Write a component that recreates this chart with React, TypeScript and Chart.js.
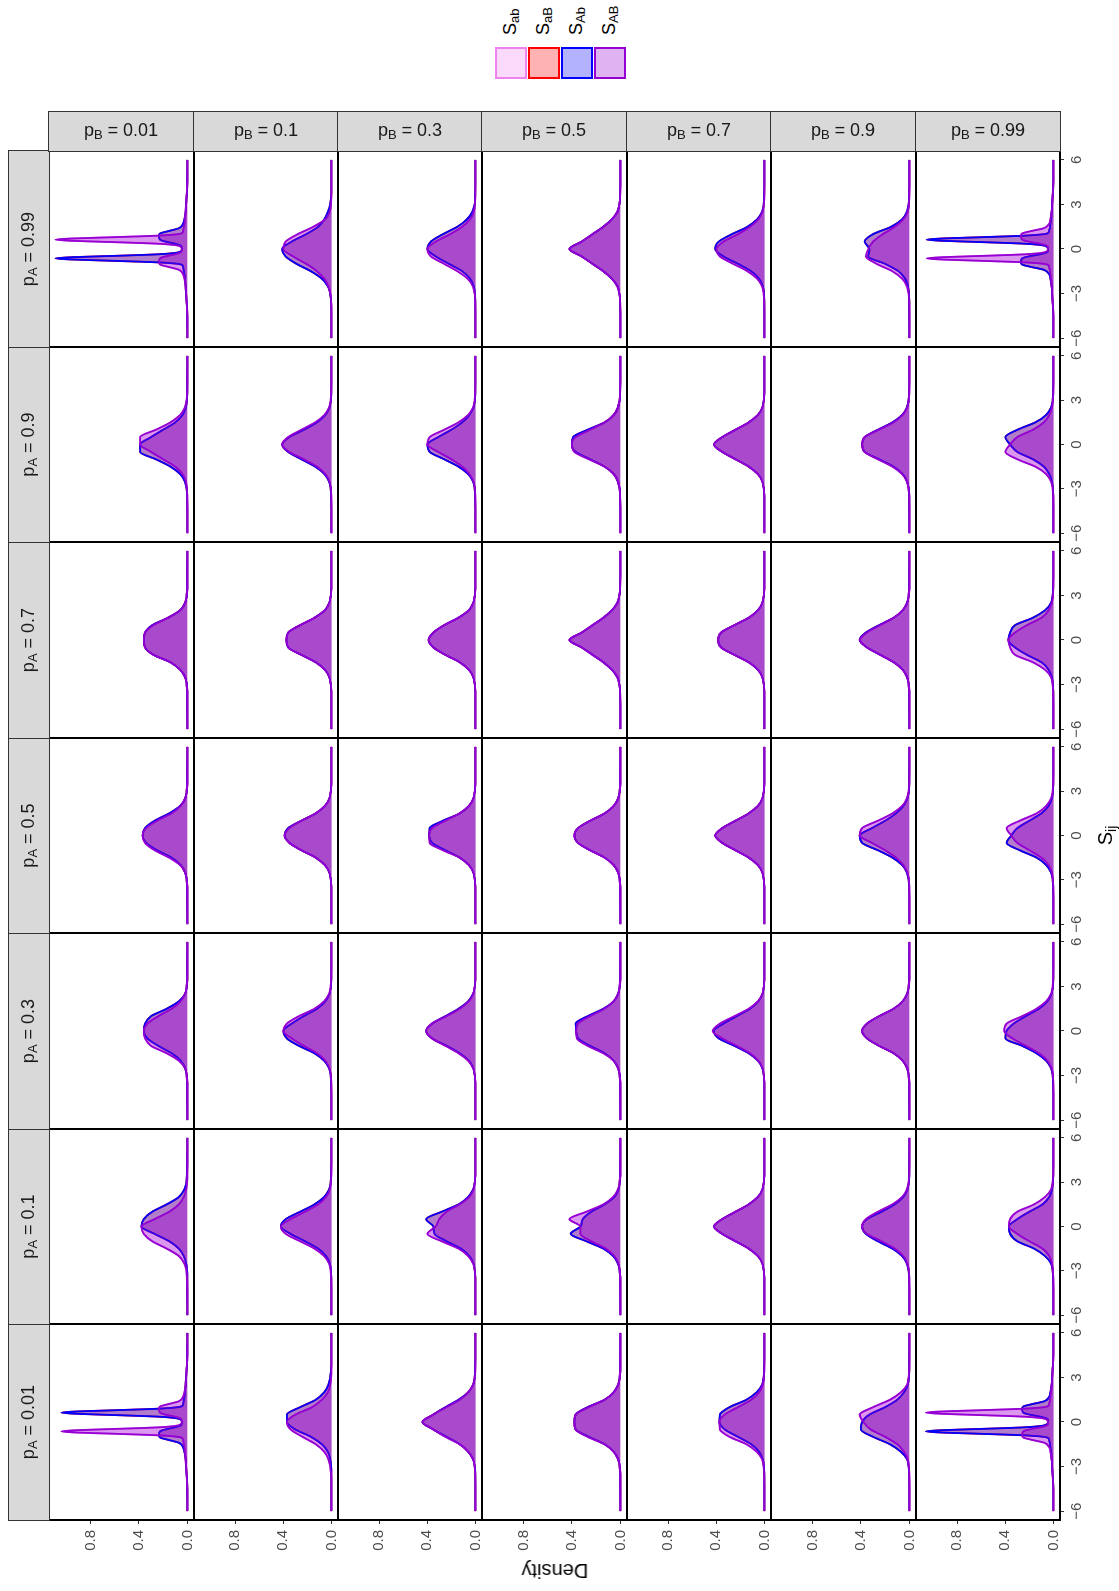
import React, { useEffect, useRef } from "react";
import { Chart, registerables } from "chart.js";

Chart.register(...registerables);

// ---------------- data ----------------
const pA_levels = ["0.01", "0.1", "0.3", "0.5", "0.7", "0.9", "0.99"];
const pB_levels = ["0.01", "0.1", "0.3", "0.5", "0.7", "0.9", "0.99"];
const S_ticks = [-6, -3, 0, 3, 6];
const density_ticks = [0, 0.4, 0.8];

// x positions (S_ij) at which densities were read
const S_grid = [-6, -3.5, -3, -2.5, -2, -1.5, -1, -0.5, 0, 0.5, 1, 1.5, 2, 2.5, 3, 3.5, 6];
const S_grid_fine = [-6, -4, -3, -2.5, -2, -1.7, -1.4, -1.2, -1.05, -0.9, -0.8, -0.7, -0.63, -0.55, -0.45, -0.35, -0.2, 0, 0.2, 0.35, 0.45, 0.55, 0.63, 0.7, 0.8, 0.9, 1.05, 1.2, 1.4, 1.7, 2, 2.5, 3, 4, 6];

// density of S_AB, indexed [pA][pB]
const S_AB: number[][][] = [
  [ // pA = 0.01
    [0,0.003,0.01,0.015,0.02,0.025,0.03,0.035,0.05,0.235,0.575,0.94,1.04,0.91,0.54,0.22,0.065,0.045,0.05,0.1,0.155,0.205,0.225,0.23,0.235,0.235,0.225,0.16,0.07,0.035,0.025,0.015,0.01,0.003,0],
    [0,0.003,0.01,0.025,0.06,0.13,0.24,0.34,0.37,0.30,0.16,0.08,0.03,0.01,0.003,0.001,0],
    [0,0.002,0.006,0.02,0.06,0.13,0.25,0.35,0.44,0.35,0.24,0.13,0.06,0.02,0.005,0.001,0],
    [0,0.001,0.005,0.018,0.055,0.13,0.27,0.37,0.38,0.37,0.26,0.13,0.055,0.018,0.005,0.001,0],
    [0,0.002,0.006,0.02,0.065,0.15,0.29,0.37,0.375,0.33,0.22,0.11,0.045,0.015,0.004,0.001,0],
    [0,0.001,0.004,0.014,0.045,0.10,0.20,0.32,0.38,0.41,0.30,0.16,0.07,0.02,0.006,0.002,0],
    [0,0.003,0.01,0.015,0.025,0.035,0.075,0.18,0.25,0.26,0.26,0.255,0.25,0.225,0.17,0.105,0.05,0.045,0.065,0.225,0.55,0.925,1.06,0.955,0.585,0.24,0.05,0.035,0.03,0.025,0.02,0.015,0.01,0.003,0],
  ],
  [ // pA = 0.1
    [0,0.003,0.008,0.025,0.07,0.17,0.29,0.36,0.38,0.27,0.15,0.07,0.03,0.01,0.003,0.001,0],
    [0,0.002,0.006,0.02,0.06,0.14,0.26,0.38,0.42,0.34,0.22,0.11,0.045,0.014,0.004,0.001,0],
    [0,0.001,0.005,0.02,0.06,0.14,0.28,0.40,0.33,0.30,0.24,0.13,0.05,0.016,0.005,0.001,0],
    [0,0.001,0.005,0.016,0.05,0.12,0.24,0.33,0.33,0.42,0.28,0.14,0.06,0.02,0.005,0.001,0],
    [0,0.001,0.005,0.018,0.055,0.13,0.24,0.35,0.42,0.35,0.24,0.13,0.055,0.018,0.005,0.001,0],
    [0,0.001,0.004,0.016,0.05,0.12,0.23,0.35,0.39,0.36,0.26,0.14,0.06,0.02,0.006,0.002,0],
    [0,0.001,0.004,0.012,0.035,0.09,0.20,0.30,0.37,0.36,0.30,0.16,0.07,0.02,0.006,0.002,0],
  ],
  [ // pA = 0.3
    [0,0.001,0.005,0.02,0.07,0.17,0.30,0.35,0.36,0.33,0.24,0.13,0.055,0.018,0.005,0.001,0],
    [0,0.001,0.004,0.016,0.05,0.12,0.23,0.33,0.40,0.37,0.27,0.14,0.06,0.02,0.006,0.002,0],
    [0,0.001,0.005,0.02,0.06,0.14,0.25,0.36,0.41,0.36,0.24,0.13,0.055,0.018,0.005,0.001,0],
    [0,0.001,0.005,0.018,0.055,0.14,0.27,0.36,0.365,0.35,0.25,0.13,0.055,0.018,0.005,0.001,0],
    [0,0.001,0.005,0.016,0.05,0.12,0.23,0.35,0.43,0.37,0.25,0.13,0.055,0.018,0.005,0.001,0],
    [0,0.001,0.005,0.018,0.055,0.13,0.25,0.35,0.39,0.35,0.25,0.13,0.055,0.018,0.005,0.001,0],
    [0,0.001,0.004,0.015,0.05,0.12,0.23,0.34,0.41,0.39,0.26,0.14,0.06,0.02,0.006,0.002,0],
  ],
  [ // pA = 0.5
    [0,0.001,0.005,0.018,0.06,0.15,0.27,0.35,0.37,0.34,0.25,0.13,0.055,0.018,0.005,0.001,0],
    [0,0.001,0.005,0.018,0.055,0.13,0.25,0.35,0.39,0.35,0.25,0.13,0.055,0.018,0.005,0.001,0],
    [0,0.001,0.005,0.018,0.055,0.13,0.27,0.38,0.385,0.36,0.25,0.13,0.055,0.018,0.005,0.001,0],
    [0,0.001,0.005,0.018,0.055,0.13,0.25,0.35,0.38,0.35,0.25,0.13,0.055,0.018,0.005,0.001,0],
    [0,0.001,0.005,0.018,0.055,0.13,0.24,0.35,0.41,0.35,0.24,0.13,0.055,0.018,0.005,0.001,0],
    [0,0.001,0.004,0.016,0.05,0.11,0.20,0.31,0.41,0.39,0.26,0.14,0.06,0.02,0.006,0.002,0],
    [0,0.001,0.004,0.013,0.04,0.10,0.20,0.30,0.35,0.39,0.28,0.14,0.06,0.02,0.006,0.002,0],
  ],
  [ // pA = 0.7
    [0,0.001,0.005,0.018,0.06,0.14,0.28,0.35,0.36,0.35,0.28,0.16,0.06,0.018,0.005,0.001,0],
    [0,0.001,0.005,0.018,0.055,0.13,0.25,0.36,0.375,0.36,0.26,0.14,0.055,0.018,0.005,0.001,0],
    [0,0.001,0.005,0.018,0.055,0.13,0.25,0.35,0.39,0.35,0.26,0.14,0.055,0.018,0.005,0.001,0],
    [0,0.002,0.008,0.025,0.07,0.14,0.23,0.32,0.42,0.32,0.23,0.14,0.07,0.025,0.008,0.002,0],
    [0,0.001,0.005,0.018,0.055,0.13,0.25,0.36,0.385,0.36,0.25,0.13,0.055,0.018,0.005,0.001,0],
    [0,0.001,0.005,0.018,0.055,0.13,0.24,0.35,0.41,0.35,0.24,0.13,0.055,0.018,0.005,0.001,0],
    [0,0.002,0.006,0.02,0.07,0.17,0.32,0.36,0.375,0.32,0.22,0.10,0.04,0.013,0.004,0.001,0],
  ],
  [ // pA = 0.9
    [0,0.001,0.004,0.013,0.04,0.10,0.20,0.30,0.39,0.39,0.26,0.14,0.06,0.02,0.006,0.002,0],
    [0,0.001,0.004,0.016,0.05,0.12,0.23,0.35,0.41,0.36,0.25,0.135,0.058,0.02,0.006,0.002,0],
    [0,0.001,0.004,0.016,0.05,0.11,0.20,0.31,0.40,0.38,0.26,0.14,0.06,0.02,0.006,0.002,0],
    [0,0.002,0.006,0.02,0.055,0.13,0.26,0.38,0.40,0.37,0.25,0.13,0.055,0.02,0.006,0.002,0],
    [0,0.001,0.005,0.018,0.055,0.13,0.24,0.35,0.42,0.35,0.24,0.13,0.055,0.018,0.005,0.001,0],
    [0,0.002,0.006,0.02,0.06,0.14,0.26,0.37,0.39,0.37,0.25,0.13,0.055,0.018,0.005,0.001,0],
    [0,0.002,0.006,0.02,0.06,0.15,0.30,0.40,0.36,0.30,0.17,0.08,0.035,0.012,0.004,0.001,0],
  ],
  [ // pA = 0.99
    [0,0.003,0.01,0.015,0.025,0.035,0.07,0.16,0.225,0.235,0.235,0.23,0.225,0.205,0.155,0.1,0.05,0.045,0.065,0.23,0.56,0.95,1.09,0.98,0.6,0.245,0.05,0.035,0.03,0.025,0.02,0.015,0.01,0.003,0],
    [0,0.002,0.008,0.025,0.06,0.12,0.21,0.32,0.40,0.38,0.28,0.15,0.05,0.015,0.004,0.001,0],
    [0,0.002,0.007,0.022,0.065,0.15,0.26,0.37,0.40,0.33,0.21,0.11,0.045,0.014,0.004,0.001,0],
    [0,0.002,0.008,0.025,0.07,0.14,0.23,0.32,0.42,0.32,0.23,0.14,0.07,0.025,0.008,0.002,0],
    [0,0.002,0.006,0.02,0.06,0.14,0.26,0.37,0.40,0.34,0.22,0.12,0.05,0.016,0.004,0.001,0],
    [0,0.002,0.006,0.02,0.06,0.14,0.27,0.36,0.34,0.30,0.22,0.12,0.05,0.015,0.004,0.001,0],
    [0,0.003,0.01,0.015,0.02,0.025,0.03,0.035,0.05,0.24,0.585,0.95,1.055,0.92,0.545,0.225,0.065,0.045,0.05,0.11,0.175,0.235,0.26,0.265,0.27,0.27,0.26,0.19,0.08,0.035,0.025,0.015,0.01,0.003,0],
  ],
];

// density of S_Ab, indexed [pA][pB]
const S_Ab: number[][][] = [
  [ // pA = 0.01
    [0,0.003,0.01,0.015,0.025,0.035,0.07,0.16,0.225,0.235,0.235,0.23,0.225,0.205,0.155,0.1,0.05,0.045,0.065,0.22,0.54,0.91,1.04,0.94,0.575,0.235,0.05,0.035,0.03,0.025,0.02,0.015,0.01,0.003,0],
    [0,0.001,0.003,0.01,0.03,0.08,0.17,0.30,0.37,0.37,0.26,0.13,0.06,0.025,0.01,0.003,0],
    [0,0.001,0.005,0.02,0.06,0.13,0.24,0.35,0.44,0.35,0.25,0.14,0.06,0.02,0.006,0.002,0],
    [0,0.001,0.005,0.018,0.055,0.13,0.26,0.37,0.38,0.37,0.27,0.13,0.055,0.018,0.005,0.001,0],
    [0,0.001,0.004,0.015,0.045,0.11,0.22,0.33,0.375,0.37,0.29,0.15,0.065,0.02,0.006,0.002,0],
    [0,0.002,0.006,0.02,0.07,0.16,0.30,0.40,0.39,0.33,0.20,0.10,0.045,0.014,0.004,0.001,0],
    [0,0.003,0.01,0.015,0.02,0.025,0.03,0.035,0.05,0.24,0.585,0.955,1.06,0.925,0.55,0.225,0.065,0.045,0.05,0.105,0.17,0.225,0.25,0.255,0.26,0.26,0.25,0.18,0.075,0.035,0.025,0.015,0.01,0.003,0],
  ],
  [ // pA = 0.1
    [0,0.001,0.003,0.01,0.03,0.07,0.15,0.27,0.38,0.36,0.29,0.17,0.07,0.025,0.008,0.003,0],
    [0,0.001,0.004,0.014,0.045,0.11,0.22,0.34,0.42,0.38,0.26,0.14,0.06,0.02,0.006,0.002,0],
    [0,0.001,0.005,0.016,0.05,0.12,0.24,0.34,0.35,0.41,0.28,0.14,0.06,0.02,0.005,0.001,0],
    [0,0.001,0.005,0.02,0.06,0.14,0.28,0.41,0.33,0.31,0.24,0.13,0.05,0.016,0.005,0.001,0],
    [0,0.001,0.005,0.018,0.055,0.13,0.24,0.35,0.42,0.35,0.24,0.13,0.055,0.018,0.005,0.001,0],
    [0,0.002,0.006,0.02,0.06,0.14,0.26,0.36,0.39,0.35,0.23,0.12,0.05,0.016,0.004,0.001,0],
    [0,0.002,0.006,0.02,0.07,0.16,0.30,0.36,0.37,0.30,0.20,0.09,0.035,0.012,0.004,0.001,0],
  ],
  [ // pA = 0.3
    [0,0.001,0.005,0.018,0.055,0.13,0.24,0.33,0.36,0.35,0.30,0.17,0.07,0.02,0.005,0.001,0],
    [0,0.002,0.006,0.02,0.06,0.14,0.27,0.37,0.40,0.33,0.23,0.12,0.05,0.016,0.004,0.001,0],
    [0,0.001,0.005,0.018,0.055,0.13,0.24,0.36,0.41,0.36,0.25,0.14,0.06,0.02,0.005,0.001,0],
    [0,0.001,0.005,0.018,0.055,0.13,0.25,0.35,0.365,0.37,0.27,0.14,0.055,0.018,0.005,0.001,0],
    [0,0.001,0.005,0.018,0.055,0.13,0.25,0.38,0.42,0.34,0.23,0.12,0.05,0.016,0.005,0.001,0],
    [0,0.001,0.005,0.018,0.055,0.13,0.25,0.35,0.39,0.35,0.25,0.13,0.055,0.018,0.005,0.001,0],
    [0,0.002,0.006,0.02,0.06,0.14,0.26,0.40,0.39,0.33,0.23,0.12,0.05,0.016,0.004,0.001,0],
  ],
  [ // pA = 0.5
    [0,0.001,0.005,0.018,0.055,0.13,0.25,0.34,0.37,0.35,0.27,0.15,0.06,0.018,0.005,0.001,0],
    [0,0.001,0.005,0.018,0.055,0.13,0.25,0.35,0.39,0.36,0.25,0.13,0.055,0.018,0.005,0.001,0],
    [0,0.001,0.005,0.018,0.055,0.13,0.25,0.36,0.385,0.38,0.27,0.13,0.055,0.018,0.005,0.001,0],
    [0,0.001,0.005,0.018,0.055,0.13,0.25,0.35,0.38,0.35,0.25,0.13,0.055,0.018,0.005,0.001,0],
    [0,0.001,0.005,0.018,0.055,0.13,0.24,0.35,0.41,0.35,0.24,0.13,0.055,0.018,0.005,0.001,0],
    [0,0.002,0.006,0.02,0.06,0.14,0.26,0.39,0.41,0.31,0.20,0.11,0.05,0.016,0.004,0.001,0],
    [0,0.002,0.006,0.02,0.06,0.14,0.28,0.39,0.35,0.30,0.20,0.10,0.04,0.013,0.004,0.001,0],
  ],
  [ // pA = 0.7
    [0,0.001,0.005,0.018,0.06,0.14,0.28,0.35,0.36,0.35,0.29,0.16,0.06,0.018,0.005,0.001,0],
    [0,0.001,0.005,0.018,0.055,0.13,0.25,0.36,0.375,0.36,0.26,0.14,0.055,0.018,0.005,0.001,0],
    [0,0.001,0.005,0.018,0.055,0.13,0.25,0.35,0.39,0.35,0.26,0.14,0.055,0.018,0.005,0.001,0],
    [0,0.002,0.008,0.025,0.07,0.14,0.23,0.32,0.42,0.32,0.23,0.14,0.07,0.025,0.008,0.002,0],
    [0,0.001,0.005,0.018,0.055,0.13,0.25,0.36,0.385,0.36,0.25,0.13,0.055,0.018,0.005,0.001,0],
    [0,0.001,0.005,0.018,0.055,0.13,0.24,0.35,0.41,0.36,0.25,0.13,0.055,0.018,0.005,0.001,0],
    [0,0.001,0.004,0.013,0.04,0.10,0.22,0.32,0.375,0.36,0.32,0.17,0.07,0.02,0.006,0.002,0],
  ],
  [ // pA = 0.9
    [0,0.002,0.006,0.02,0.06,0.14,0.26,0.39,0.39,0.30,0.20,0.10,0.04,0.013,0.004,0.001,0],
    [0,0.002,0.006,0.02,0.058,0.135,0.25,0.36,0.41,0.35,0.23,0.12,0.05,0.016,0.004,0.001,0],
    [0,0.002,0.006,0.02,0.06,0.14,0.26,0.38,0.40,0.31,0.20,0.11,0.05,0.016,0.004,0.001,0],
    [0,0.002,0.006,0.02,0.055,0.13,0.25,0.37,0.40,0.39,0.27,0.13,0.055,0.02,0.006,0.002,0],
    [0,0.001,0.005,0.018,0.055,0.13,0.24,0.35,0.42,0.35,0.24,0.13,0.055,0.018,0.005,0.001,0],
    [0,0.001,0.005,0.018,0.055,0.13,0.25,0.37,0.39,0.37,0.26,0.14,0.06,0.02,0.006,0.002,0],
    [0,0.001,0.004,0.012,0.035,0.08,0.17,0.30,0.36,0.40,0.30,0.15,0.06,0.02,0.006,0.002,0],
  ],
  [ // pA = 0.99
    [0,0.003,0.01,0.015,0.02,0.025,0.03,0.035,0.05,0.245,0.6,0.98,1.09,0.95,0.56,0.23,0.065,0.045,0.05,0.1,0.155,0.205,0.225,0.23,0.235,0.235,0.225,0.16,0.07,0.035,0.025,0.015,0.01,0.003,0],
    [0,0.003,0.01,0.03,0.08,0.17,0.29,0.38,0.41,0.33,0.21,0.11,0.06,0.03,0.01,0.003,0],
    [0,0.001,0.004,0.015,0.045,0.11,0.22,0.33,0.40,0.37,0.27,0.15,0.07,0.025,0.007,0.002,0],
    [0,0.002,0.008,0.025,0.07,0.14,0.23,0.32,0.42,0.32,0.23,0.14,0.07,0.025,0.008,0.002,0],
    [0,0.001,0.004,0.014,0.045,0.11,0.22,0.34,0.41,0.38,0.27,0.14,0.06,0.02,0.006,0.002,0],
    [0,0.001,0.004,0.012,0.035,0.09,0.20,0.34,0.33,0.37,0.30,0.15,0.06,0.02,0.006,0.002,0],
    [0,0.003,0.01,0.015,0.025,0.035,0.08,0.19,0.26,0.27,0.27,0.265,0.26,0.235,0.175,0.11,0.05,0.045,0.065,0.225,0.545,0.92,1.055,0.95,0.585,0.24,0.05,0.035,0.03,0.025,0.02,0.015,0.01,0.003,0],
  ],
];

// In every panel of the picture S_ab lies exactly under S_AB and S_aB under S_Ab
const S_ab: number[][][] = S_AB;
const S_aB: number[][][] = S_Ab;

const SERIES = [
  { sub: "ab", line: "#EE82EE", fill: "rgba(238,130,238,0.3)", values: S_ab },
  { sub: "aB", line: "#FF0000", fill: "rgba(255,0,0,0.3)", values: S_aB },
  { sub: "Ab", line: "#0000FF", fill: "rgba(0,0,255,0.3)", values: S_Ab },
  { sub: "AB", line: "#9400D3", fill: "rgba(148,0,211,0.3)", values: S_AB },
];

// ---------------- layout (un-rotated figure) ----------------
const W = 1591;
const H = 1119;
const colEdges = [71, 267, 462, 658, 853, 1049, 1244, 1440];
const rowEdges = [49, 194, 338, 482, 627, 771, 916, 1060];
const AXIS_W = 45;
const AXIS_H = 34;
const X_MIN = -6.6, X_MAX = 6.6;
const Y_MIN = -0.0548, Y_MAX = 1.143;
const FONT = "'Liberation Sans', Arial, Helvetica, sans-serif";

function fmtS(v: number) {
  return v < 0 ? "\u2212" + String(-v) : String(v);
}

function zeroPadding(sc: any) {
  sc.paddingTop = 0;
  sc.paddingBottom = 0;
  sc.paddingLeft = 0;
  sc.paddingRight = 0;
}

function Panel({ iA, iB }: { iA: number; iB: number }) {
  const ref = useRef<HTMLCanvasElement | null>(null);
  const hasY = iA === 0;
  const hasX = iB === pB_levels.length - 1;
  const pw = colEdges[iA + 1] - colEdges[iA];
  const ph = rowEdges[iB + 1] - rowEdges[iB];
  const left = colEdges[iA] - (hasY ? AXIS_W : 0);
  const top = rowEdges[iB];
  const w = pw + (hasY ? AXIS_W : 0);
  const h = ph + (hasX ? AXIS_H : 0);

  useEffect(() => {
    if (!ref.current) return;
    const datasets = SERIES.slice()
      .reverse()
      .map((s) => {
        const vals = s.values[iA][iB];
        const grid = vals.length === S_grid_fine.length ? S_grid_fine : S_grid;
        return {
          label: "S" + s.sub,
          data: grid.map((x, k) => ({ x, y: vals[k] })),
          borderColor: s.line,
          backgroundColor: s.fill,
          fill: "origin" as const,
          borderWidth: 1.8,
          pointRadius: 0,
          pointHoverRadius: 0,
          cubicInterpolationMode: "monotone" as const,
        };
      });
    const tickFont = { family: FONT, size: 15 };
    const chart = new Chart(ref.current, {
      type: "line",
      data: { datasets },
      options: {
        responsive: false,
        animation: false,
        devicePixelRatio: 1,
        events: [],
        layout: { padding: 0, autoPadding: false },
        plugins: { legend: { display: false }, tooltip: { enabled: false } },
        scales: {
          x: {
            type: "linear",
            min: X_MIN,
            max: X_MAX,
            display: hasX,
            afterBuildTicks: (sc: any) => {
              sc.ticks = S_ticks.map((v) => ({ value: v }));
            },
            afterFit: (sc: any) => {
              sc.height = hasX ? AXIS_H : 0;
              zeroPadding(sc);
            },
            grid: { display: true, drawOnChartArea: false, drawTicks: true, tickLength: 4, color: "#333333", lineWidth: 1 },
            border: { display: false },
            ticks: {
              autoSkip: false,
              maxRotation: 0,
              minRotation: 0,
              padding: 3.5,
              color: "#4D4D4D",
              font: tickFont,
              callback: (v: any) => fmtS(Number(v)),
            },
          },
          y: {
            type: "linear",
            min: Y_MIN,
            max: Y_MAX,
            display: hasY,
            afterBuildTicks: (sc: any) => {
              sc.ticks = density_ticks.map((v) => ({ value: v }));
            },
            afterFit: (sc: any) => {
              sc.width = hasY ? AXIS_W : 0;
              zeroPadding(sc);
            },
            grid: { display: true, drawOnChartArea: false, drawTicks: true, tickLength: 4, color: "#333333", lineWidth: 1 },
            border: { display: false },
            ticks: {
              autoSkip: false,
              padding: 6,
              color: "#4D4D4D",
              font: tickFont,
              callback: (v: any) => Number(v).toFixed(1),
            },
          },
        },
      },
    } as any);
    return () => chart.destroy();
  }, [iA, iB]);

  return (
    <canvas
      ref={ref}
      width={w}
      height={h}
      style={{ position: "absolute", left, top, width: w, height: h }}
    />
  );
}

function Sub({ base, sub, size, subSize, drop }: { base: string; sub: string; size: number; subSize: number; drop: number }) {
  return (
    <span style={{ fontSize: size, whiteSpace: "nowrap" }}>
      {base}
      <span style={{ fontSize: subSize, position: "relative", top: drop }}>{sub}</span>
    </span>
  );
}

function StripLabel({ v, value }: { v: string; value: string }) {
  return (
    <span style={{ fontSize: 18, color: "#1A1A1A", whiteSpace: "nowrap" }}>
      p<span style={{ fontSize: 13, position: "relative", top: 3 }}>{v}</span>
      {" = "}
      {value}
    </span>
  );
}

export default function App() {
  const panels: React.ReactNode[] = [];
  for (let iA = 0; iA < pA_levels.length; iA++) {
    for (let iB = 0; iB < pB_levels.length; iB++) {
      panels.push(<Panel key={`p-${iA}-${iB}`} iA={iA} iB={iB} />);
    }
  }

  const LW = 1.6;
  const lines: React.ReactNode[] = [];
  colEdges.forEach((x, k) => {
    lines.push(
      <div
        key={`v${k}`}
        style={{
          position: "absolute",
          left: x - LW / 2,
          top: rowEdges[0] - LW / 2,
          width: LW,
          height: rowEdges[rowEdges.length - 1] - rowEdges[0] + LW,
          background: "#000",
        }}
      />
    );
  });
  rowEdges.forEach((y, k) => {
    lines.push(
      <div
        key={`h${k}`}
        style={{
          position: "absolute",
          left: colEdges[0] - LW / 2,
          top: y - LW / 2,
          width: colEdges[colEdges.length - 1] - colEdges[0] + LW,
          height: LW,
          background: "#000",
        }}
      />
    );
  });

  const SB = 1.2;
  const strips: React.ReactNode[] = [];
  pA_levels.forEach((lv, iA) => {
    const l = colEdges[iA];
    const r = colEdges[iA + 1];
    strips.push(
      <div
        key={`sa${iA}`}
        style={{
          position: "absolute",
          left: l - SB / 2,
          top: 8,
          width: r - l + SB,
          height: rowEdges[0] - 8 + SB / 2,
          background: "#D9D9D9",
          border: `${SB}px solid #333333`,
          boxSizing: "border-box",
          display: "flex",
          alignItems: "center",
          justifyContent: "center",
        }}
      >
        <StripLabel v="A" value={lv} />
      </div>
    );
  });
  pB_levels.forEach((lv, iB) => {
    const t = rowEdges[iB];
    const b = rowEdges[iB + 1];
    strips.push(
      <div
        key={`sb${iB}`}
        style={{
          position: "absolute",
          left: colEdges[colEdges.length - 1] - SB / 2,
          top: t - SB / 2,
          width: 40.5 + SB / 2,
          height: b - t + SB,
          background: "#D9D9D9",
          border: `${SB}px solid #333333`,
          boxSizing: "border-box",
        }}
      >
        <div
          style={{
            position: "absolute",
            left: "50%",
            top: "50%",
            transform: "translate(-50%, -50%) rotate(90deg)",
          }}
        >
          <StripLabel v="B" value={lv} />
        </div>
      </div>
    );
  });

  const legendTops = [495, 528, 561, 594];

  return (
    <div
      style={{
        position: "absolute",
        left: 0,
        top: 0,
        width: H,
        height: W,
        background: "#FFFFFF",
        overflow: "hidden",
      }}
    >
      <div
        style={{
          position: "absolute",
          left: 0,
          top: 0,
          width: W,
          height: H,
          transformOrigin: "0 0",
          transform: `translate(0px, ${W}px) rotate(-90deg)`,
          fontFamily: FONT,
          background: "#FFFFFF",
        }}
      >
        {panels}
        {lines}
        {strips}

        {/* y axis title */}
        <div
          style={{
            position: "absolute",
            left: 20,
            top: (rowEdges[0] + rowEdges[rowEdges.length - 1]) / 2,
            transform: "translate(-50%, -50%) rotate(-90deg)",
            fontSize: 20,
            color: "#000",
            whiteSpace: "nowrap",
            lineHeight: "24px",
          }}
        >
          Density
        </div>

        {/* x axis title */}
        <div
          style={{
            position: "absolute",
            left: (colEdges[0] + colEdges[colEdges.length - 1]) / 2,
            top: 1106,
            transform: "translate(-50%, -50%)",
            color: "#000",
            lineHeight: "24px",
          }}
        >
          <Sub base="S" sub="ij" size={20} subSize={14} drop={4} />
        </div>

        {/* legend */}
        {SERIES.map((s, k) => (
          <React.Fragment key={`lg${k}`}>
            <div
              style={{
                position: "absolute",
                left: 1512,
                top: legendTops[k],
                width: 32,
                height: 32,
                background: s.fill,
                border: `2px solid ${s.line}`,
                boxSizing: "border-box",
              }}
            />
            <div
              style={{
                position: "absolute",
                left: 1556,
                top: legendTops[k] + 16,
                transform: "translateY(-50%)",
                color: "#000",
                lineHeight: "22px",
              }}
            >
              <Sub base="S" sub={s.sub} size={18} subSize={13} drop={3} />
            </div>
          </React.Fragment>
        ))}
      </div>
    </div>
  );
}
